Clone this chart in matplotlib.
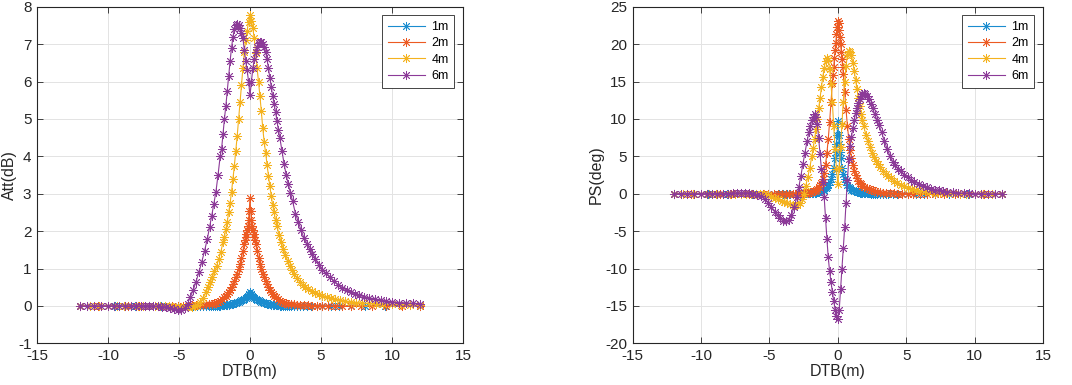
import matplotlib
matplotlib.use("Agg")
import matplotlib.pyplot as plt

plt.rcParams['font.family'] = ['Liberation Sans', 'DejaVu Sans']
plt.rcParams['axes.unicode_minus'] = False

labels = ['1m', '2m', '4m', '6m']
colors = ['#1A8CCF', '#EC5A22', '#F4B21E', '#8C3A98']

# ---- DTB sample positions (m) ----
x_1m = [-12.0, -9.5, -8.1, -7.1, -6.3, -5.7, -5.1, -4.7, -4.3, -4.0, -3.7, -3.5, -3.3, -3.1, -2.9, -2.75, -2.6,
        -2.45, -2.3, -2.2, -2.1,
        -2.0, -1.9, -1.8, -1.7, -1.6, -1.5, -1.4, -1.3, -1.2, -1.1, -1.0, -0.9, -0.8, -0.7, -0.6, -0.5, -0.4, -0.3,
        -0.2, -0.15, -0.1, -0.05, 0.0, 0.05, 0.1, 0.15, 0.2,
        0.3, 0.4, 0.5, 0.6, 0.7, 0.8, 0.9, 1.0, 1.1, 1.2, 1.3, 1.4, 1.5, 1.6, 1.7, 1.8, 1.9, 2.0,
        2.1, 2.2, 2.3, 2.45,
        2.6, 2.75, 2.9, 3.1, 3.3, 3.5, 3.7, 4.0, 4.3, 4.7, 5.1, 5.7, 6.3, 7.1, 8.1, 9.5, 12.0]

x_2m = [-12.0, -10.7, -9.6, -8.6, -7.8, -7.1, -6.5, -6.0, -5.5, -5.1, -4.7, -4.4, -4.1, -3.8, -3.55, -3.3, -3.1,
        -2.9, -2.7, -2.55, -2.4, -2.25, -2.1, -1.95, -1.8, -1.7, -1.6, -1.5, -1.4, -1.3, -1.2, -1.1, -1.0, -0.9,
        -0.8, -0.7, -0.6, -0.5, -0.4, -0.35, -0.3, -0.25, -0.2, -0.15, -0.1, -0.05, 0.0,
        0.05, 0.1, 0.15, 0.2, 0.25, 0.3, 0.35, 0.4, 0.5, 0.6, 0.7, 0.8, 0.9, 1.0, 1.1, 1.2, 1.3, 1.4, 1.5, 1.6,
        1.7, 1.8, 1.95, 2.1, 2.25, 2.4, 2.55, 2.7, 2.9, 3.1, 3.3, 3.55, 3.8, 4.1, 4.4, 4.7, 5.1, 5.5, 6.0, 6.5,
        7.1, 7.8, 8.6, 9.6, 10.7, 12.0]

x_4m = [-12.0, -11.3, -10.6, -10.0, -9.4, -8.9, -8.4, -7.9, -7.5, -7.1, -6.7, -6.35, -6.0, -5.7, -5.4, -5.1,
        -4.85, -4.6, -4.35, -4.1, -3.9, -3.7, -3.5, -3.3, -3.1, -2.95, -2.8, -2.65, -2.5, -2.35, -2.2, -2.05,
        -1.9, -1.8, -1.7, -1.6, -1.5, -1.4, -1.3, -1.2, -1.1, -1.0, -0.9, -0.8, -0.7, -0.6, -0.5, -0.4, -0.3,
        -0.2, -0.1, 0.0,
        0.1, 0.2, 0.3, 0.4, 0.5, 0.6, 0.7, 0.8, 0.9, 1.0, 1.1, 1.2, 1.3, 1.4, 1.5, 1.6, 1.7, 1.8, 1.9, 2.05,
        2.2, 2.35, 2.5, 2.65, 2.8, 2.95, 3.1, 3.3, 3.5, 3.7, 3.9, 4.1, 4.35, 4.6, 4.85, 5.1, 5.4, 5.7, 6.0,
        6.35, 6.7, 7.1, 7.5, 7.9, 8.4, 8.9, 9.4, 10.0, 10.6, 11.3, 12.0]

x_6m = [-12.0, -11.5, -11.0, -10.5, -10.0, -9.6, -9.2, -8.8, -8.4, -8.0, -7.7, -7.4, -7.1, -6.8, -6.5, -6.2,
        -5.9, -5.6, -5.35, -5.1, -4.85, -4.6, -4.4, -4.2, -4.0, -3.8, -3.6, -3.4, -3.2, -3.0, -2.85, -2.7,
        -2.55, -2.4, -2.25, -2.1, -2.0, -1.9, -1.8, -1.7, -1.6, -1.5, -1.4, -1.3, -1.2, -1.1, -1.0, -0.9,
        -0.8, -0.7, -0.6, -0.5, -0.4, -0.3, -0.2, -0.1, 0.0,
        0.1, 0.2, 0.3, 0.4, 0.5, 0.6, 0.7, 0.8, 0.9, 1.0, 1.1, 1.2, 1.3, 1.4, 1.5, 1.6, 1.7, 1.8, 1.9, 2.0,
        2.1, 2.25, 2.4, 2.55, 2.7, 2.85, 3.0, 3.2, 3.4, 3.6, 3.8, 4.0, 4.2, 4.4, 4.6, 4.85, 5.1, 5.35, 5.6,
        5.9, 6.2, 6.5, 6.8, 7.1, 7.4, 7.7, 8.0, 8.4, 8.8, 9.2, 9.6, 10.0, 10.5, 11.0, 11.5, 12.0]

# ---- Attenuation (dB) ----
att_1m = [0, 0, 0, 0, 0, 0, 0, 0, 0, 0, 0, 0, 0, 0, 0, 0, 0,
          0.0, 0.005, 0.008, 0.01,
          0.012, 0.015, 0.02, 0.022, 0.03, 0.035, 0.04, 0.05, 0.06, 0.07, 0.08, 0.1, 0.11, 0.13, 0.15, 0.17,
          0.19, 0.22, 0.25, 0.27, 0.29, 0.32, 0.38, 0.32, 0.29, 0.27, 0.25,
          0.22, 0.19, 0.17, 0.15, 0.13, 0.11, 0.1, 0.08, 0.07, 0.06, 0.05, 0.04, 0.035, 0.03, 0.022, 0.02,
          0.015, 0.012,
          0.01, 0.008, 0.005, 0.0,
          0, 0, 0, 0, 0, 0, 0, 0, 0, 0, 0, 0, 0, 0, 0, 0, 0]

att_2m = [0, 0, 0, 0, 0, 0, 0, 0, 0, 0, 0.01, 0.01, 0.02, 0.02, 0.03, 0.03, 0.04,
          0.05, 0.06, 0.07, 0.09, 0.11, 0.14, 0.18, 0.23, 0.27, 0.32, 0.37, 0.43, 0.5, 0.58, 0.67, 0.76, 0.86,
          0.98, 1.12, 1.28, 1.47, 1.65, 1.75, 1.85, 1.93, 2.02, 2.13, 2.3, 2.55, 2.89,
          2.55, 2.3, 2.13, 2.02, 1.93, 1.85, 1.75, 1.65, 1.47, 1.28, 1.12, 0.98, 0.86, 0.76, 0.67, 0.58, 0.5,
          0.43, 0.37, 0.32, 0.27, 0.23, 0.18, 0.14, 0.11, 0.09, 0.07, 0.06, 0.05, 0.04, 0.03, 0.03, 0.02, 0.02,
          0.01, 0.01, 0, 0, 0, 0, 0, 0, 0, 0, 0, 0]

att_4m = [0, 0, 0, 0, 0, 0, 0, 0, 0, 0, 0, 0, -0.01, -0.01, -0.02, -0.03,
          -0.04, -0.04, -0.04, -0.03, -0.01, 0.03, 0.1, 0.22, 0.37, 0.5, 0.63, 0.78, 0.92, 1.07, 1.25, 1.45,
          1.7, 1.85, 2.05, 2.25, 2.5, 2.75, 3.05, 3.4, 3.75, 4.15, 4.55, 5.0, 5.45, 5.9, 6.35, 6.8, 7.1,
          7.35, 7.6, 7.78,
          7.62, 7.42, 7.15, 6.75, 6.35, 6.0, 5.6, 5.2, 4.75, 4.38, 4.1, 3.78, 3.48, 3.2, 2.93, 2.7, 2.5, 2.3,
          2.13, 1.9, 1.7, 1.52, 1.35, 1.2, 1.06, 0.95, 0.86, 0.75, 0.65, 0.57, 0.51, 0.45, 0.39, 0.35, 0.31,
          0.27, 0.24, 0.21, 0.18, 0.15, 0.13, 0.11, 0.09, 0.08, 0.07, 0.06, 0.05, 0.04, 0.03, 0.03, 0.02]

att_6m = [0, 0, 0, 0, 0, 0, 0, 0, 0, 0, 0, 0, 0, -0.01, -0.01, -0.02,
          -0.03, -0.05, -0.08, -0.1, -0.11, -0.06, 0.05, 0.25, 0.42, 0.65, 0.9, 1.17, 1.47, 1.8, 2.1, 2.4,
          2.72, 3.05, 3.5, 4.0, 4.2, 4.6, 5.0, 5.35, 5.75, 6.15, 6.55, 6.9, 7.2, 7.4, 7.5, 7.54,
          7.5, 7.43, 7.3, 7.15, 6.85, 6.55, 6.3, 6.0, 5.63,
          6.0, 6.35, 6.6, 6.8, 6.93, 7.02, 7.06, 7.05, 7.0, 6.92, 6.8, 6.6, 6.35, 6.1, 5.85, 5.6, 5.4, 5.18,
          4.95, 4.7, 4.5, 4.15, 3.8, 3.5, 3.25, 3.02, 2.8, 2.47, 2.25, 2.02, 1.82, 1.66, 1.52, 1.4, 1.26, 1.1,
          0.97, 0.87, 0.77, 0.66, 0.57, 0.49, 0.42, 0.37, 0.32, 0.28, 0.25, 0.21, 0.18, 0.15, 0.13, 0.11,
          0.09, 0.08, 0.07, 0.06]

# ---- Phase shift (deg) ----
ps_1m = [0, 0, 0, 0, 0, 0, 0, 0, 0, 0, 0, 0, 0, 0, 0.01, 0.01, 0.02,
         0.02, 0.03, 0.04, 0.05,
         0.06, 0.08, 0.1, 0.13, 0.16, 0.2, 0.25, 0.3, 0.37, 0.45, 0.55, 0.7, 0.9, 1.15, 1.5, 2.0, 2.6, 3.5,
         4.8, 5.6, 6.6, 7.9, 9.7, 7.9, 6.6, 5.6, 4.8,
         3.5, 2.6, 2.0, 1.5, 1.15, 0.9, 0.7, 0.55, 0.45, 0.37, 0.3, 0.25, 0.2, 0.16, 0.13, 0.1, 0.08, 0.06,
         0.05, 0.04, 0.03, 0.02,
         0.02, 0.01, 0.01, 0, 0, 0, 0, 0, 0, 0, 0, 0, 0, 0, 0, 0, 0]

ps_2m = [0, 0, 0, 0, 0, 0, 0, 0, 0, 0, 0, 0, 0, 0, 0, 0, 0.01,
         0.01, 0.02, 0.03, 0.05, 0.08, 0.13, 0.2, 0.3, 0.4, 0.5, 0.65, 0.85, 1.1, 1.45, 2.0, 2.8, 3.9,
         5.4, 7.3, 9.6, 12.2, 14.8, 15.9, 17.0, 18.1, 19.2, 20.2, 21.3, 22.3, 23.1,
         22.8, 21.9, 21.0, 20.0, 19.0, 18.0, 17.0, 16.0, 13.6, 11.2, 9.1, 7.3, 5.9, 4.8, 3.8, 3.1, 2.5, 2.05,
         1.7, 1.45, 1.25, 1.07, 0.88, 0.74, 0.62, 0.52, 0.44, 0.36, 0.28, 0.2, 0.14, 0.08, 0.05, 0.03, 0.02,
         0.01, 0, 0, 0, 0, 0, 0, 0, 0, 0, 0]

ps_4m = [0, 0, 0, 0, 0, 0, 0, 0, 0, 0, 0, 0, -0.01, -0.04, -0.1, -0.22,
         -0.38, -0.55, -0.75, -0.95, -1.1, -1.25, -1.4, -1.5, -1.55, -1.5, -1.2, -0.7, 0.0, 1.0, 2.2, 3.5,
         5.0, 6.1, 7.3, 8.6, 10.0, 11.4, 12.8, 14.2, 15.6, 16.8, 17.7, 18.1, 17.9, 16.7, 14.7, 12.2, 9.0,
         6.0, 3.3, 1.3,
         3.4, 6.2, 9.3, 12.3, 15.0, 17.1, 18.5, 19.1, 19.0, 18.5, 17.5, 16.4, 15.2, 14.0, 12.8, 11.7, 10.7,
         9.8, 9.0, 7.9, 7.0, 6.2, 5.5, 4.9, 4.4, 3.95, 3.55, 3.1, 2.7, 2.35, 2.05, 1.75, 1.45, 1.2, 1.0, 0.82,
         0.65, 0.5, 0.4, 0.3, 0.22, 0.15, 0.1, 0.07, 0.04, 0.02, 0.01, 0, 0, 0, 0]

ps_6m = [0, 0, 0, 0, 0, 0, 0, 0, 0, 0.02, 0.04, 0.06, 0.08, 0.08, 0.06, 0.0,
         -0.12, -0.35, -0.7, -1.2, -1.8, -2.4, -2.9, -3.3, -3.6, -3.65, -3.55, -2.9, -1.8, -0.5, 0.9, 2.4,
         4.0, 5.5, 7.0, 8.3, 9.1, 9.8, 10.3, 10.6, 10.2, 9.3, 7.4, 5.3, 3.3, 1.6, -0.4, -3.2,
         -6.0, -8.5, -10.4, -11.8, -13.1, -14.3, -15.5, -16.4, -16.7,
         -15.6, -12.8, -10.0, -7.3, -4.5, -1.2, 1.8, 4.6, 6.4, 7.6, 8.8, 9.8, 10.8, 11.5, 12.1, 12.6, 13.0,
         13.3, 13.4, 13.3, 13.1, 12.6, 12.0, 11.4, 10.6, 9.9, 9.2, 8.2, 7.1, 6.0, 5.1, 4.3, 3.8, 3.35, 3.0,
         2.55, 2.2, 1.85, 1.6, 1.3, 1.05, 0.85, 0.68, 0.55, 0.45, 0.36, 0.28, 0.2, 0.12, 0.07, 0.03, 0.0,
         -0.02, -0.03, -0.03, -0.03]

xs = [x_1m, x_2m, x_4m, x_6m]
att = [att_1m, att_2m, att_4m, att_6m]
ps = [ps_1m, ps_2m, ps_4m, ps_6m]

xticks = [-15, -10, -5, 0, 5, 10, 15]
att_yticks = [-1, 0, 1, 2, 3, 4, 5, 6, 7, 8]
ps_yticks = [-20, -15, -10, -5, 0, 5, 10, 15, 20, 25]

fig = plt.figure(figsize=(10.72, 3.85), dpi=100)
ax1 = fig.add_axes([0.0345, 0.1083, 0.3974, 0.8743])
ax2 = fig.add_axes([0.5902, 0.1083, 0.3827, 0.8743])

axcol = '#262626'
for ax, ys, ylab, yt in [(ax1, att, 'Att(dB)', att_yticks), (ax2, ps, 'PS(deg)', ps_yticks)]:
    for x, y, c, lab in zip(xs, ys, colors, labels):
        ax.plot(x, y, '-', color=c, lw=0.8, marker=(8, 2, 0), ms=6.5, mew=0.6, label=lab)
    ax.set_xlim(-15, 15)
    ax.set_ylim(yt[0], yt[-1])
    ax.set_xticks(xticks)
    ax.set_yticks(yt)
    ax.grid(True, color='#e3e3e3', lw=0.7)
    ax.set_axisbelow(True)
    ax.tick_params(direction='in', top=True, right=True, length=4, width=0.6,
                   labelsize=11, colors=axcol, pad=4)
    for s in ax.spines.values():
        s.set_color(axcol)
        s.set_linewidth(0.8)
    ax.set_xlabel('DTB(m)', fontsize=11.5, color=axcol, labelpad=1)
    ax.set_ylabel(ylab, fontsize=11.5, color=axcol, labelpad=1)
    leg = ax.legend(loc='upper right', fontsize=9, frameon=True, fancybox=False,
                    edgecolor='#262626', framealpha=1, borderaxespad=0.7,
                    handlelength=3.0, handletextpad=0.5, labelspacing=0.35,
                    borderpad=0.45, markerfirst=True)
    leg.get_frame().set_linewidth(0.6)

fig.savefig('out.png', dpi=100)
